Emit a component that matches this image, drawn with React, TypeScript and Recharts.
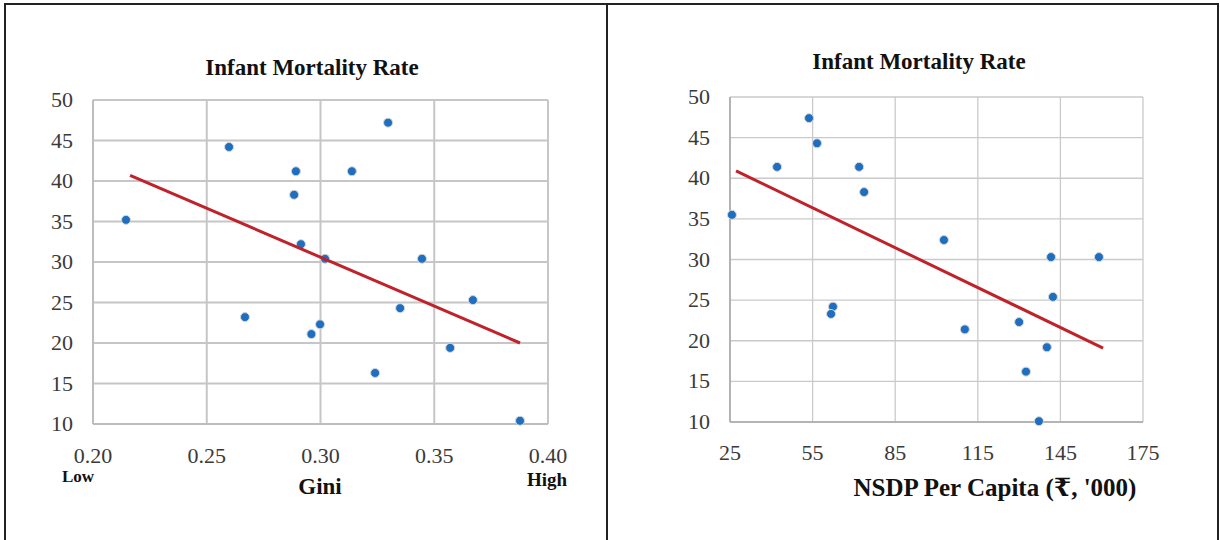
import React from "react";
import { ScatterChart, Scatter, XAxis, YAxis, CartesianGrid } from "recharts";

// Left panel: Gini vs infant mortality
const giniValues = [0.2145, 0.2598, 0.2892, 0.2884, 0.3138, 0.3297, 0.2914, 0.302, 0.3446, 0.335, 0.367, 0.2668, 0.2998, 0.296, 0.324, 0.357, 0.3877];
const giniImr = [35.2, 44.2, 41.2, 38.3, 41.2, 47.2, 32.2, 30.4, 30.4, 24.3, 25.3, 23.2, 22.3, 21.1, 16.3, 19.4, 10.4];
const giniTrendX = [0.2163, 0.3877];
const giniTrendY = [40.7, 20.0];
const giniTicks = [0.2, 0.25, 0.3, 0.35, 0.4];

// Right panel: NSDP per capita vs infant mortality
const nsdpValues = [25.7, 42.1, 53.7, 56.6, 71.9, 73.7, 102.7, 141.6, 159.0, 142.3, 62.4, 61.7, 110.3, 130.0, 140.1, 132.5, 137.2];
const nsdpImr = [35.5, 41.4, 47.4, 44.3, 41.4, 38.3, 32.4, 30.3, 30.3, 25.4, 24.2, 23.3, 21.4, 22.3, 19.2, 16.2, 10.1];
const nsdpTrendX = [27.2, 160.5];
const nsdpTrendY = [40.9, 19.1];
const nsdpTicks = [25, 55, 85, 115, 145, 175];

const imrTicks = [10, 15, 20, 25, 30, 35, 40, 45, 50];

const zip = (xs: number[], ys: number[]) => xs.map((x, i) => ({ x, y: ys[i] }));

const SERIF = "'Liberation Serif', 'DejaVu Serif', serif";
const DOT = "#1f6fc0";
const TREND = "#c0222b";

const Dot = (props: any) => (
  <circle cx={props.cx} cy={props.cy} r={4.5} fill={DOT} stroke="#d6d6d6" strokeWidth={1} />
);
const NoDot = () => <g />;

// tick renderers with explicit serif font
const XTick = (digits: number) => (props: any) => (
  <text x={props.x} y={props.y} dy={16} textAnchor="middle" fill="#3a3a3a" style={{ fontFamily: SERIF, fontSize: 22 }}>
    {digits ? Number(props.payload.value).toFixed(digits) : props.payload.value}
  </text>
);
const YTick = (props: any) => (
  <text x={props.x} y={props.y} dy={7} textAnchor="end" fill="#3a3a3a" style={{ fontFamily: SERIF, fontSize: 22 }}>
    {props.payload.value}
  </text>
);

const label = (left: number, top: number, size: number, width = 0): React.CSSProperties => ({
  position: "absolute",
  left,
  top,
  width: width || undefined,
  textAlign: width ? "center" : "left",
  fontFamily: SERIF,
  fontWeight: "bold",
  fontSize: size,
  color: "#111",
  whiteSpace: "nowrap",
  lineHeight: 1,
});

export default function App() {
  const giniData = zip(giniValues, giniImr);
  const giniTrend = zip(giniTrendX, giniTrendY);
  const nsdpData = zip(nsdpValues, nsdpImr);
  const nsdpTrend = zip(nsdpTrendX, nsdpTrendY);

  return (
    <div style={{ position: "fixed", left: 0, top: 0, width: 1220, height: 540, background: "#fff", overflow: "hidden", fontFamily: SERIF }}>
      {/* frames */}
      <div style={{ position: "absolute", left: 4, top: 3, width: 600, height: 560, borderLeft: "2px solid #222", borderTop: "2px solid #222", borderRight: "2px solid #222" }} />
      <div style={{ position: "absolute", left: 604, top: 3, width: 613, height: 560, borderTop: "2px solid #222", borderRight: "2px solid #222" }} />

      <div style={{ position: "absolute", left: 0, top: 0 }}>
        <ScatterChart width={605} height={540} margin={{ top: 100, right: 57, bottom: 86, left: 0 }}>
          <CartesianGrid stroke="#c6c6c6" strokeWidth={2} />
          <XAxis
            type="number"
            dataKey="x"
            domain={[0.2, 0.4]}
            ticks={giniTicks}
            tick={XTick(2)}
            tickLine={false}
            tickSize={0}
            tickMargin={23}
            axisLine={{ stroke: "#bdbdbd", strokeWidth: 2 }}
            height={30}
            interval={0}
          />
          <YAxis
            type="number"
            dataKey="y"
            domain={[10, 50]}
            ticks={imrTicks}
            tick={YTick}
            tickLine={false}
            tickSize={0}
            tickMargin={20}
            axisLine={{ stroke: "#bdbdbd", strokeWidth: 2 }}
            width={93}
            interval={0}
          />
          <Scatter data={giniData} shape={Dot} isAnimationActive={false} />
          <Scatter data={giniTrend} line={{ stroke: TREND, strokeWidth: 3 }} shape={NoDot} isAnimationActive={false} />
        </ScatterChart>
      </div>

      <div style={{ position: "absolute", left: 605, top: 0 }}>
        <ScatterChart width={615} height={540} margin={{ top: 97, right: 77, bottom: 88, left: 0 }}>
          <CartesianGrid stroke="#cacaca" strokeWidth={1.3} />
          <XAxis
            type="number"
            dataKey="x"
            domain={[25, 175]}
            ticks={nsdpTicks}
            tick={XTick(0)}
            tickLine={false}
            tickSize={0}
            tickMargin={22}
            axisLine={{ stroke: "#a9a9a9", strokeWidth: 1.6 }}
            height={30}
            interval={0}
          />
          <YAxis
            type="number"
            dataKey="y"
            domain={[10, 50]}
            ticks={imrTicks}
            tick={YTick}
            tickLine={false}
            tickSize={0}
            tickMargin={20}
            axisLine={{ stroke: "#a9a9a9", strokeWidth: 1.6 }}
            width={125}
            interval={0}
          />
          <Scatter data={nsdpData} shape={Dot} isAnimationActive={false} />
          <Scatter data={nsdpTrend} line={{ stroke: TREND, strokeWidth: 3 }} shape={NoDot} isAnimationActive={false} />
        </ScatterChart>
      </div>

      <div style={label(112, 56, 23, 400)}>Infant Mortality Rate</div>
      <div style={label(719, 50, 23, 400)}>Infant Mortality Rate</div>
      <div style={label(220, 475, 23, 200)}>Gini</div>
      <div style={label(62, 468, 17)}>Low</div>
      <div style={label(527, 470, 19)}>High</div>
      <div style={label(795, 475, 25, 400)}>NSDP Per Capita (₹, '000)</div>
    </div>
  );
}
